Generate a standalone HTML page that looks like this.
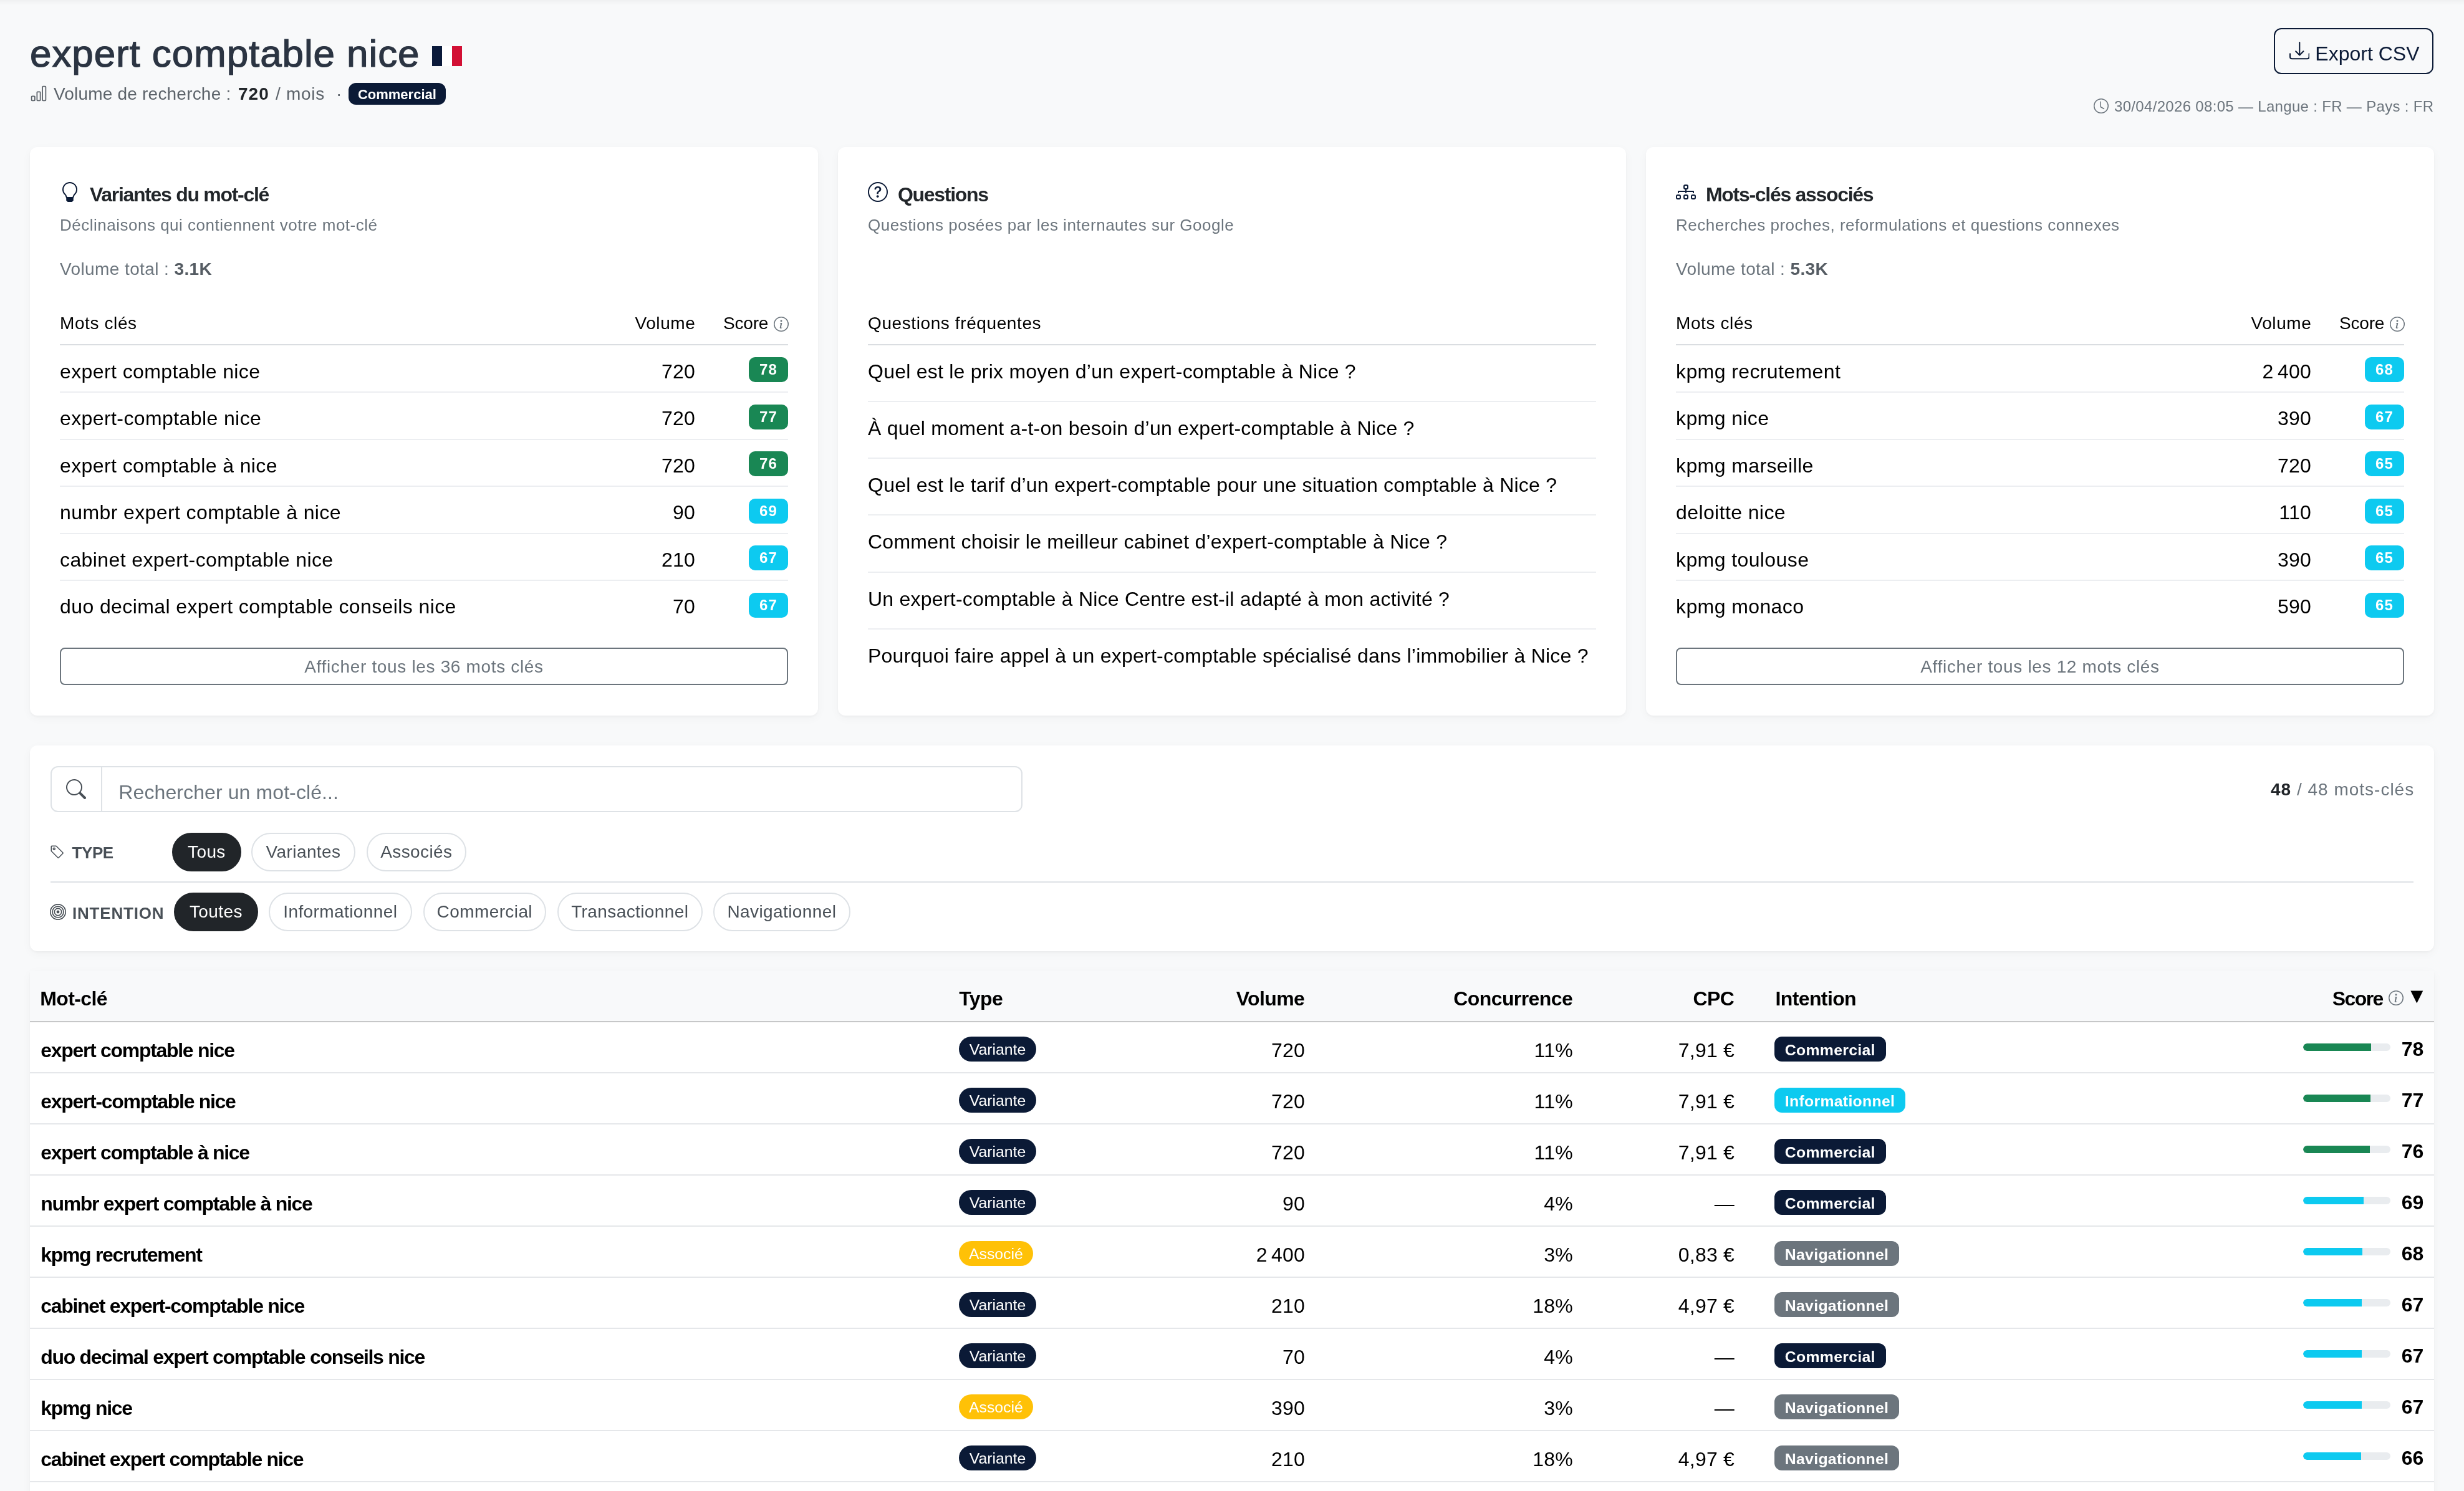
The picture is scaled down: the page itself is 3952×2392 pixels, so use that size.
<!DOCTYPE html>
<html lang="fr"><head><meta charset="utf-8"><title>expert comptable nice</title>
<style>
html,body{margin:0;padding:0;}
@media (min-width:2600px){html{zoom:2;}}
body{width:1976px;height:1196px;overflow:hidden;background:#f8f9fa;font-family:"Liberation Sans",Arial,sans-serif;position:relative;}
#root{position:absolute;left:0;top:0;width:1976px;height:1196px;overflow:hidden;will-change:transform;}
.a{position:absolute;display:block;}
.t{position:absolute;white-space:nowrap;}
.t b{font-weight:700;}
.ts{display:inline-block;width:3.2px;}
.bdg{position:absolute;height:20.1px;line-height:20.1px;padding:0 8.3px;border-radius:5px;color:#fff;font-weight:700;font-size:12px;letter-spacing:0.6px;}
.pill{position:absolute;border-radius:20px;box-sizing:border-box;}
.tp{position:absolute;height:20px;line-height:21px;border-radius:10px;color:#fff;font-size:12.4px;text-align:center;white-space:nowrap;}
.ib{position:absolute;height:20px;line-height:21.5px;padding:0 8.4px;border-radius:6px;color:#fff;font-size:12.4px;font-weight:700;white-space:nowrap;letter-spacing:0.15px;}
.sc{position:absolute;right:32.35px;height:40px;display:flex;align-items:center;justify-content:flex-end;}
.sc .bar{display:block;width:70px;height:6px;border-radius:3px;background:#e9ecef;overflow:hidden;margin-right:8.8px;}
.sc .bar span{display:block;height:100%;border-radius:3px 0 0 3px;}
.sc .num{font-weight:700;font-size:16px;color:#000;line-height:24px;position:relative;top:1.5px;}
</style></head>
<body>
<div id="root">
<div class="a" style="left:0.00px;top:0.00px;width:1976.00px;height:4.00px;background:linear-gradient(rgba(0,0,0,.035),rgba(0,0,0,0));"></div>
<span class="t " style="top:19.75px;font-size:31px;line-height:46px;color:#2b3442;letter-spacing:0.45px;left:24.00px;-webkit-text-stroke:0.6px #2b3442;">expert comptable nice</span>
<div class="a" style="left:346.50px;top:37.00px;width:8.00px;height:16.00px;background:#0b1a3a;"></div>
<div class="a" style="left:354.50px;top:37.00px;width:7.90px;height:16.00px;background:#fff;"></div>
<div class="a" style="left:362.40px;top:37.00px;width:8.10px;height:16.00px;background:#d21034;"></div>
<svg class="a" style="left:24.10px;top:68.10px" width="14" height="14" viewBox="0 0 16 16" fill="#5c636a"><path d="M4 11H2v3h2zm5-4H7v7h2zm5-5v12h-2V2zm-2-1a1 1 0 0 0-1 1v12a1 1 0 0 0 1 1h2a1 1 0 0 0 1-1V2a1 1 0 0 0-1-1zM6 7a1 1 0 0 1 1-1h2a1 1 0 0 1 1 1v7a1 1 0 0 1-1 1H7a1 1 0 0 1-1-1zm-5 4a1 1 0 0 1 1-1h2a1 1 0 0 1 1 1v3a1 1 0 0 1-1 1H2a1 1 0 0 1-1-1z"/></svg>
<span class="t " style="top:65.00px;font-size:14px;line-height:21px;color:#5c636a;letter-spacing:0.1px;left:43.00px;">Volume de recherche :</span>
<span class="t " style="top:65.00px;font-size:14px;line-height:21px;color:#212529;font-weight:700;letter-spacing:0.5px;left:191.00px;">720</span>
<span class="t " style="top:65.00px;font-size:14px;line-height:21px;color:#5c636a;letter-spacing:0.35px;left:221.00px;">/ mois</span>
<span class="t " style="top:65.00px;font-size:14px;line-height:21px;color:#5c636a;left:269.50px;">·</span>
<div class="a" style="left:279.50px;top:66.65px;width:77.90px;height:17.20px;background:#0b1a36;border-radius:6px;"></div>
<span class="t " style="top:68.05px;font-size:11px;line-height:16px;color:#fff;font-weight:700;left:318.45px;transform:translateX(-50%);">Commercial</span>
<div class="a" style="left:1823.30px;top:22.25px;width:128.35px;height:37.25px;border:1px solid #0b1a36;border-radius:6px;box-sizing:border-box;"></div>
<svg class="a" style="left:1835.90px;top:32.60px" width="16.3" height="16.3" viewBox="0 0 16 16" fill="#0b1a36"><path d="M.5 9.9a.5.5 0 0 1 .5.5v2.5a1 1 0 0 0 1 1h12a1 1 0 0 0 1-1v-2.5a.5.5 0 0 1 1 0v2.5a2 2 0 0 1-2 2H2a2 2 0 0 1-2-2v-2.5a.5.5 0 0 1 .5-.5"/><path d="M7.646 11.854a.5.5 0 0 0 .708 0l3-3a.5.5 0 0 0-.708-.708L8.5 10.293V1.5a.5.5 0 0 0-1 0v8.793L5.354 8.146a.5.5 0 1 0-.708.708z"/></svg>
<span class="t " style="top:31.00px;font-size:16px;line-height:24px;color:#0b1a36;left:1856.65px;">Export CSV</span>
<svg class="a" style="left:1679.00px;top:79.00px" width="12" height="12" viewBox="0 0 16 16" fill="#6c757d"><path d="M8 3.5a.5.5 0 0 0-1 0V9a.5.5 0 0 0 .252.434l3.5 2a.5.5 0 0 0 .496-.868L8 8.71z"/><path d="M8 16A8 8 0 1 0 8 0a8 8 0 0 0 0 16m7-8A7 7 0 1 1 1 8a7 7 0 0 1 14 0"/></svg>
<span class="t " style="top:76.70px;font-size:12px;line-height:18px;color:#6c757d;letter-spacing:0.16px;left:1695.50px;">30/04/2026 08:05 — Langue : FR — Pays : FR</span>
<div class="a" style="left:24.00px;top:118.00px;width:632.00px;height:456.00px;background:#fff;border-radius:6px;box-shadow:0 1px 2px rgba(0,0,0,.04),0 2px 8px rgba(0,0,0,.035);"></div>
<div class="a" style="left:672.00px;top:118.00px;width:632.00px;height:456.00px;background:#fff;border-radius:6px;box-shadow:0 1px 2px rgba(0,0,0,.04),0 2px 8px rgba(0,0,0,.035);"></div>
<div class="a" style="left:1320.00px;top:118.00px;width:632.00px;height:456.00px;background:#fff;border-radius:6px;box-shadow:0 1px 2px rgba(0,0,0,.04),0 2px 8px rgba(0,0,0,.035);"></div>
<svg class="a" style="left:48.00px;top:146.00px" width="16" height="16" viewBox="0 0 16 16" fill="#0b1a36"><path d="M2 6a6 6 0 1 1 10.174 4.31c-.203.196-.359.4-.453.619l-.762 1.769A.5.5 0 0 1 10.5 13a.5.5 0 0 1 0 1 .5.5 0 0 1 0 1l-.224.447a1 1 0 0 1-.894.553H6.618a1 1 0 0 1-.894-.553L5.5 15a.5.5 0 0 1 0-1 .5.5 0 0 1 0-1 .5.5 0 0 1-.46-.302l-.761-1.77a2 2 0 0 0-.453-.618A5.98 5.98 0 0 1 2 6m6-5a5 5 0 0 0-3.479 8.592c.263.254.514.564.676.941L5.83 12h4.342l.632-1.467c.162-.377.413-.687.676-.941A5 5 0 0 0 8 1"/><path d="M5.3 12.2h5.4l-.5 2.6H5.8z"/></svg>
<span class="t " style="top:144.00px;font-size:16px;line-height:24px;color:#212529;font-weight:700;letter-spacing:-0.65px;left:72.00px;">Variantes du mot-clé</span>
<span class="t " style="top:170.40px;font-size:13px;line-height:20px;color:#6c757d;letter-spacing:0.25px;left:48.00px;">Déclinaisons qui contiennent votre mot-clé</span>
<span class="t " style="top:205.60px;font-size:14px;line-height:21px;color:#6c757d;letter-spacing:0.2px;left:48.00px;">Volume total : <b style="color:#555c63">3.1K</b></span>
<span class="t " style="top:249.00px;font-size:14px;line-height:21px;color:#000;letter-spacing:0.3px;left:48.00px;">Mots clés</span>
<span class="t " style="top:249.00px;font-size:14px;line-height:21px;color:#000;letter-spacing:0.3px;right:1418.60px;margin-right:-0.3px;">Volume</span>
<span class="t " style="top:249.00px;font-size:14px;line-height:21px;color:#000;letter-spacing:-0.1px;left:580.00px;">Score</span>
<svg class="a" style="left:620.30px;top:254.00px" width="12" height="12" viewBox="0 0 16 16" fill="#6c757d"><path d="M8 15A7 7 0 1 1 8 1a7 7 0 0 1 0 14m0 1A8 8 0 1 0 8 0a8 8 0 0 0 0 16"/><path d="m8.93 6.588-2.29.287-.082.38.45.083c.294.07.352.176.288.469l-.738 3.468c-.194.897.105 1.319.808 1.319.545 0 1.178-.252 1.465-.598l.088-.416c-.2.176-.492.246-.686.246-.275 0-.375-.193-.304-.533zM9 4.5a1 1 0 1 1-2 0 1 1 0 0 1 2 0"/></svg>
<div class="a" style="left:48.00px;top:276.00px;width:584.00px;height:1.00px;background:#dadde1;"></div>
<span class="t " style="top:285.85px;font-size:16px;line-height:24px;color:#000;letter-spacing:0.2px;left:48.00px;">expert comptable nice</span>
<span class="t " style="top:285.85px;font-size:16px;line-height:24px;color:#000;letter-spacing:0.12px;right:1418.60px;margin-right:-0.12px;">720</span>
<span class="bdg" style="right:1344.15px;top:286.60px;background:#198754;">78</span>
<div class="a" style="left:48.00px;top:314.00px;width:584.00px;height:1.00px;background:#eceef1;"></div>
<span class="t " style="top:323.60px;font-size:16px;line-height:24px;color:#000;letter-spacing:0.2px;left:48.00px;">expert-comptable nice</span>
<span class="t " style="top:323.60px;font-size:16px;line-height:24px;color:#000;letter-spacing:0.12px;right:1418.60px;margin-right:-0.12px;">720</span>
<span class="bdg" style="right:1344.15px;top:324.35px;background:#198754;">77</span>
<div class="a" style="left:48.00px;top:351.75px;width:584.00px;height:1.00px;background:#eceef1;"></div>
<span class="t " style="top:361.35px;font-size:16px;line-height:24px;color:#000;letter-spacing:0.2px;left:48.00px;">expert comptable à nice</span>
<span class="t " style="top:361.35px;font-size:16px;line-height:24px;color:#000;letter-spacing:0.12px;right:1418.60px;margin-right:-0.12px;">720</span>
<span class="bdg" style="right:1344.15px;top:362.10px;background:#198754;">76</span>
<div class="a" style="left:48.00px;top:389.50px;width:584.00px;height:1.00px;background:#eceef1;"></div>
<span class="t " style="top:399.10px;font-size:16px;line-height:24px;color:#000;letter-spacing:0.2px;left:48.00px;">numbr expert comptable à nice</span>
<span class="t " style="top:399.10px;font-size:16px;line-height:24px;color:#000;letter-spacing:0.12px;right:1418.60px;margin-right:-0.12px;">90</span>
<span class="bdg" style="right:1344.15px;top:399.85px;background:#0dcaf0;">69</span>
<div class="a" style="left:48.00px;top:427.25px;width:584.00px;height:1.00px;background:#eceef1;"></div>
<span class="t " style="top:436.85px;font-size:16px;line-height:24px;color:#000;letter-spacing:0.2px;left:48.00px;">cabinet expert-comptable nice</span>
<span class="t " style="top:436.85px;font-size:16px;line-height:24px;color:#000;letter-spacing:0.12px;right:1418.60px;margin-right:-0.12px;">210</span>
<span class="bdg" style="right:1344.15px;top:437.60px;background:#0dcaf0;">67</span>
<div class="a" style="left:48.00px;top:465.00px;width:584.00px;height:1.00px;background:#eceef1;"></div>
<span class="t " style="top:474.60px;font-size:16px;line-height:24px;color:#000;letter-spacing:0.2px;left:48.00px;">duo decimal expert comptable conseils nice</span>
<span class="t " style="top:474.60px;font-size:16px;line-height:24px;color:#000;letter-spacing:0.12px;right:1418.60px;margin-right:-0.12px;">70</span>
<span class="bdg" style="right:1344.15px;top:475.35px;background:#0dcaf0;">67</span>
<div class="a" style="left:48.00px;top:519.35px;width:584.00px;height:30.25px;border:1px solid #6c757d;border-radius:4px;box-sizing:border-box;"></div>
<span class="t " style="top:524.60px;font-size:14px;line-height:21px;color:#6c757d;letter-spacing:0.33px;left:340.00px;transform:translateX(-50%);">Afficher tous les 36 mots clés</span>
<svg class="a" style="left:696.00px;top:146.00px" width="16" height="16" viewBox="0 0 16 16" fill="#0b1a36"><path d="M8 15A7 7 0 1 1 8 1a7 7 0 0 1 0 14m0 1A8 8 0 1 0 8 0a8 8 0 0 0 0 16"/><path d="M5.255 5.786a.237.237 0 0 0 .241.247h.825c.138 0 .248-.113.266-.25.09-.656.54-1.134 1.342-1.134.686 0 1.314.343 1.314 1.168 0 .635-.374.927-.965 1.371-.673.489-1.206 1.06-1.168 1.987l.003.217a.25.25 0 0 0 .25.246h.811a.25.25 0 0 0 .25-.25v-.105c0-.718.273-.927 1.01-1.486.609-.463 1.244-.977 1.244-2.056 0-1.511-1.276-2.241-2.673-2.241-1.267 0-2.655.59-2.75 2.286m1.557 5.763c0 .533.425.927 1.01.927.609 0 1.028-.394 1.028-.927 0-.552-.42-.94-1.029-.94-.584 0-1.009.388-1.009.94"/></svg>
<span class="t " style="top:144.00px;font-size:16px;line-height:24px;color:#212529;font-weight:700;letter-spacing:-0.65px;left:720.00px;">Questions</span>
<span class="t " style="top:170.40px;font-size:13px;line-height:20px;color:#6c757d;letter-spacing:0.25px;left:696.00px;">Questions posées par les internautes sur Google</span>
<span class="t " style="top:249.00px;font-size:14px;line-height:21px;color:#000;letter-spacing:0.3px;left:696.00px;">Questions fréquentes</span>
<div class="a" style="left:696.00px;top:276.00px;width:584.00px;height:1.00px;background:#dadde1;"></div>
<span class="t " style="top:285.85px;font-size:16px;line-height:24px;color:#000;letter-spacing:0.12px;left:696.00px;">Quel est le prix moyen d’un expert-comptable à Nice ?</span>
<div class="a" style="left:696.00px;top:321.50px;width:584.00px;height:1.00px;background:#eceef1;"></div>
<span class="t " style="top:331.45px;font-size:16px;line-height:24px;color:#000;letter-spacing:0.12px;left:696.00px;">À quel moment a-t-on besoin d’un expert-comptable à Nice ?</span>
<div class="a" style="left:696.00px;top:367.10px;width:584.00px;height:1.00px;background:#eceef1;"></div>
<span class="t " style="top:377.05px;font-size:16px;line-height:24px;color:#000;letter-spacing:0.12px;left:696.00px;">Quel est le tarif d’un expert-comptable pour une situation comptable à Nice ?</span>
<div class="a" style="left:696.00px;top:412.70px;width:584.00px;height:1.00px;background:#eceef1;"></div>
<span class="t " style="top:422.65px;font-size:16px;line-height:24px;color:#000;letter-spacing:0.12px;left:696.00px;">Comment choisir le meilleur cabinet d’expert-comptable à Nice ?</span>
<div class="a" style="left:696.00px;top:458.30px;width:584.00px;height:1.00px;background:#eceef1;"></div>
<span class="t " style="top:468.25px;font-size:16px;line-height:24px;color:#000;letter-spacing:0.12px;left:696.00px;">Un expert-comptable à Nice Centre est-il adapté à mon activité ?</span>
<div class="a" style="left:696.00px;top:503.90px;width:584.00px;height:1.00px;background:#eceef1;"></div>
<span class="t " style="top:513.85px;font-size:16px;line-height:24px;color:#000;letter-spacing:0.12px;left:696.00px;">Pourquoi faire appel à un expert-comptable spécialisé dans l’immobilier à Nice ?</span>
<svg class="a" style="left:1344.00px;top:146.00px" width="16" height="16" viewBox="0 0 16 16" fill="#0b1a36"><path fill-rule="evenodd" d="M6 3.5A1.5 1.5 0 0 1 7.5 2h1A1.5 1.5 0 0 1 10 3.5v1A1.5 1.5 0 0 1 8.5 6v1H14a.5.5 0 0 1 .5.5v1a.5.5 0 0 1-1 0V8h-5v.5a.5.5 0 0 1-1 0V8h-5v.5a.5.5 0 0 1-1 0v-1A.5.5 0 0 1 2 7h5.5V6A1.5 1.5 0 0 1 6 4.5zM8.5 5a.5.5 0 0 0 .5-.5v-1a.5.5 0 0 0-.5-.5h-1a.5.5 0 0 0-.5.5v1a.5.5 0 0 0 .5.5zM0 11.5A1.5 1.5 0 0 1 1.5 10h1A1.5 1.5 0 0 1 4 11.5v1A1.5 1.5 0 0 1 2.5 14h-1A1.5 1.5 0 0 1 0 12.5zm1.5-.5a.5.5 0 0 0-.5.5v1a.5.5 0 0 0 .5.5h1a.5.5 0 0 0 .5-.5v-1a.5.5 0 0 0-.5-.5zm4.5.5A1.5 1.5 0 0 1 7.5 10h1a1.5 1.5 0 0 1 1.5 1.5v1A1.5 1.5 0 0 1 8.5 14h-1A1.5 1.5 0 0 1 6 12.5zm1.5-.5a.5.5 0 0 0-.5.5v1a.5.5 0 0 0 .5.5h1a.5.5 0 0 0 .5-.5v-1a.5.5 0 0 0-.5-.5zm4.5.5a1.5 1.5 0 0 1 1.5-1.5h1a1.5 1.5 0 0 1 1.5 1.5v1a1.5 1.5 0 0 1-1.5 1.5h-1a1.5 1.5 0 0 1-1.5-1.5zm1.5-.5a.5.5 0 0 0-.5.5v1a.5.5 0 0 0 .5.5h1a.5.5 0 0 0 .5-.5v-1a.5.5 0 0 0-.5-.5z"/></svg>
<span class="t " style="top:144.00px;font-size:16px;line-height:24px;color:#212529;font-weight:700;letter-spacing:-0.65px;left:1368.00px;">Mots-clés associés</span>
<span class="t " style="top:170.40px;font-size:13px;line-height:20px;color:#6c757d;letter-spacing:0.25px;left:1344.00px;">Recherches proches, reformulations et questions connexes</span>
<span class="t " style="top:205.60px;font-size:14px;line-height:21px;color:#6c757d;letter-spacing:0.2px;left:1344.00px;">Volume total : <b style="color:#555c63">5.3K</b></span>
<span class="t " style="top:249.00px;font-size:14px;line-height:21px;color:#000;letter-spacing:0.3px;left:1344.00px;">Mots clés</span>
<span class="t " style="top:249.00px;font-size:14px;line-height:21px;color:#000;letter-spacing:0.3px;right:122.60px;margin-right:-0.3px;">Volume</span>
<span class="t " style="top:249.00px;font-size:14px;line-height:21px;color:#000;letter-spacing:-0.1px;left:1876.00px;">Score</span>
<svg class="a" style="left:1916.30px;top:254.00px" width="12" height="12" viewBox="0 0 16 16" fill="#6c757d"><path d="M8 15A7 7 0 1 1 8 1a7 7 0 0 1 0 14m0 1A8 8 0 1 0 8 0a8 8 0 0 0 0 16"/><path d="m8.93 6.588-2.29.287-.082.38.45.083c.294.07.352.176.288.469l-.738 3.468c-.194.897.105 1.319.808 1.319.545 0 1.178-.252 1.465-.598l.088-.416c-.2.176-.492.246-.686.246-.275 0-.375-.193-.304-.533zM9 4.5a1 1 0 1 1-2 0 1 1 0 0 1 2 0"/></svg>
<div class="a" style="left:1344.00px;top:276.00px;width:584.00px;height:1.00px;background:#dadde1;"></div>
<span class="t " style="top:285.85px;font-size:16px;line-height:24px;color:#000;letter-spacing:0.2px;left:1344.00px;">kpmg recrutement</span>
<span class="t " style="top:285.85px;font-size:16px;line-height:24px;color:#000;letter-spacing:0.12px;right:122.60px;margin-right:-0.12px;">2<span class="ts"></span>400</span>
<span class="bdg" style="right:48.15px;top:286.60px;background:#0dcaf0;">68</span>
<div class="a" style="left:1344.00px;top:314.00px;width:584.00px;height:1.00px;background:#eceef1;"></div>
<span class="t " style="top:323.60px;font-size:16px;line-height:24px;color:#000;letter-spacing:0.2px;left:1344.00px;">kpmg nice</span>
<span class="t " style="top:323.60px;font-size:16px;line-height:24px;color:#000;letter-spacing:0.12px;right:122.60px;margin-right:-0.12px;">390</span>
<span class="bdg" style="right:48.15px;top:324.35px;background:#0dcaf0;">67</span>
<div class="a" style="left:1344.00px;top:351.75px;width:584.00px;height:1.00px;background:#eceef1;"></div>
<span class="t " style="top:361.35px;font-size:16px;line-height:24px;color:#000;letter-spacing:0.2px;left:1344.00px;">kpmg marseille</span>
<span class="t " style="top:361.35px;font-size:16px;line-height:24px;color:#000;letter-spacing:0.12px;right:122.60px;margin-right:-0.12px;">720</span>
<span class="bdg" style="right:48.15px;top:362.10px;background:#0dcaf0;">65</span>
<div class="a" style="left:1344.00px;top:389.50px;width:584.00px;height:1.00px;background:#eceef1;"></div>
<span class="t " style="top:399.10px;font-size:16px;line-height:24px;color:#000;letter-spacing:0.2px;left:1344.00px;">deloitte nice</span>
<span class="t " style="top:399.10px;font-size:16px;line-height:24px;color:#000;letter-spacing:0.12px;right:122.60px;margin-right:-0.12px;">110</span>
<span class="bdg" style="right:48.15px;top:399.85px;background:#0dcaf0;">65</span>
<div class="a" style="left:1344.00px;top:427.25px;width:584.00px;height:1.00px;background:#eceef1;"></div>
<span class="t " style="top:436.85px;font-size:16px;line-height:24px;color:#000;letter-spacing:0.2px;left:1344.00px;">kpmg toulouse</span>
<span class="t " style="top:436.85px;font-size:16px;line-height:24px;color:#000;letter-spacing:0.12px;right:122.60px;margin-right:-0.12px;">390</span>
<span class="bdg" style="right:48.15px;top:437.60px;background:#0dcaf0;">65</span>
<div class="a" style="left:1344.00px;top:465.00px;width:584.00px;height:1.00px;background:#eceef1;"></div>
<span class="t " style="top:474.60px;font-size:16px;line-height:24px;color:#000;letter-spacing:0.2px;left:1344.00px;">kpmg monaco</span>
<span class="t " style="top:474.60px;font-size:16px;line-height:24px;color:#000;letter-spacing:0.12px;right:122.60px;margin-right:-0.12px;">590</span>
<span class="bdg" style="right:48.15px;top:475.35px;background:#0dcaf0;">65</span>
<div class="a" style="left:1344.00px;top:519.35px;width:584.00px;height:30.25px;border:1px solid #6c757d;border-radius:4px;box-sizing:border-box;"></div>
<span class="t " style="top:524.60px;font-size:14px;line-height:21px;color:#6c757d;letter-spacing:0.33px;left:1636.00px;transform:translateX(-50%);">Afficher tous les 12 mots clés</span>
<div class="a" style="left:24.00px;top:598.00px;width:1928.00px;height:164.75px;background:#fff;border-radius:6px;box-shadow:0 1px 2px rgba(0,0,0,.04),0 2px 8px rgba(0,0,0,.035);"></div>
<div class="a" style="left:40.35px;top:614.40px;width:779.65px;height:37.10px;border:1px solid #dee2e6;border-radius:6px;box-sizing:border-box;"></div>
<div class="a" style="left:81.00px;top:614.40px;width:1.00px;height:37.10px;background:#dee2e6;"></div>
<svg class="a" style="left:52.95px;top:625.00px" width="16" height="16" viewBox="0 0 16 16" fill="#495057"><path d="M11.742 10.344a6.5 6.5 0 1 0-1.397 1.398h-.001q.044.06.098.115l3.85 3.85a1 1 0 0 0 1.415-1.414l-3.85-3.85a1 1 0 0 0-.115-.1zM12 6.5a5.5 5.5 0 1 1-11 0 5.5 5.5 0 0 1 11 0"/></svg>
<span class="t " style="top:623.45px;font-size:16px;line-height:24px;color:#6c757d;letter-spacing:0.05px;left:95.15px;">Rechercher un mot-clé...</span>
<span class="t " style="top:623.00px;font-size:14px;line-height:21px;color:#6c757d;letter-spacing:0.5px;right:40.40px;margin-right:-0.5px;"><b style="color:#212529">48</b> / 48 mots-clés</span>
<svg class="a" style="left:40.20px;top:677.30px" width="12" height="12" viewBox="0 0 16 16" fill="#495057"><path d="M6 4.5a1.5 1.5 0 1 1-3 0 1.5 1.5 0 0 1 3 0m-1 0a.5.5 0 1 0-1 0 .5.5 0 0 0 1 0"/><path d="M2 1h4.586a1 1 0 0 1 .707.293l7 7a1 1 0 0 1 0 1.414l-4.586 4.586a1 1 0 0 1-1.414 0l-7-7A1 1 0 0 1 1 6.586V2a1 1 0 0 1 1-1m0 5.586 7 7L13.586 9l-7-7H2z"/></svg>
<span class="t " style="top:674.15px;font-size:13px;line-height:20px;color:#495057;font-weight:700;letter-spacing:-0.2px;left:57.75px;">TYPE</span>
<div class="pill" style="left:138.00px;top:668.00px;width:55.40px;height:30.75px;background:#212529;color:#fff;border:1px solid #212529;"></div>
<span class="t " style="top:673.15px;font-size:14px;line-height:21px;color:#fff;letter-spacing:0.2px;left:165.70px;transform:translateX(-50%);">Tous</span>
<div class="pill" style="left:201.65px;top:668.00px;width:83.20px;height:30.75px;background:#fff;color:#495057;border:1px solid #dee2e6;"></div>
<span class="t " style="top:673.15px;font-size:14px;line-height:21px;color:#495057;letter-spacing:0.2px;left:243.25px;transform:translateX(-50%);">Variantes</span>
<div class="pill" style="left:294.00px;top:668.00px;width:79.85px;height:30.75px;background:#fff;color:#495057;border:1px solid #dee2e6;"></div>
<span class="t " style="top:673.15px;font-size:14px;line-height:21px;color:#495057;letter-spacing:0.2px;left:333.93px;transform:translateX(-50%);">Associés</span>
<div class="a" style="left:40.35px;top:707.00px;width:1895.25px;height:1.00px;background:#dee2e6;"></div>
<svg class="a" style="left:39.90px;top:725.00px" width="13" height="13" viewBox="0 0 16 16" fill="#495057"><path d="M8 15A7 7 0 1 1 8 1a7 7 0 0 1 0 14m0 1A8 8 0 1 0 8 0a8 8 0 0 0 0 16"/><path d="M8 13A5 5 0 1 1 8 3a5 5 0 0 1 0 10m0 1A6 6 0 1 0 8 2a6 6 0 0 0 0 12"/><path d="M8 11a3 3 0 1 1 0-6 3 3 0 0 1 0 6m0 1a4 4 0 1 0 0-8 4 4 0 0 0 0 8"/><path d="M9.5 8a1.5 1.5 0 1 1-3 0 1.5 1.5 0 0 1 3 0"/></svg>
<span class="t " style="top:722.50px;font-size:13px;line-height:20px;color:#495057;font-weight:700;letter-spacing:0.4px;left:58.00px;">INTENTION</span>
<div class="pill" style="left:139.60px;top:716.00px;width:67.20px;height:30.85px;background:#212529;color:#fff;border:1px solid #212529;"></div>
<span class="t " style="top:721.15px;font-size:14px;line-height:21px;color:#fff;letter-spacing:0.2px;left:173.20px;transform:translateX(-50%);">Toutes</span>
<div class="pill" style="left:215.35px;top:716.00px;width:115.05px;height:30.85px;background:#fff;color:#495057;border:1px solid #dee2e6;"></div>
<span class="t " style="top:721.15px;font-size:14px;line-height:21px;color:#495057;letter-spacing:0.2px;left:272.88px;transform:translateX(-50%);">Informationnel</span>
<div class="pill" style="left:339.50px;top:716.00px;width:98.30px;height:30.85px;background:#fff;color:#495057;border:1px solid #dee2e6;"></div>
<span class="t " style="top:721.15px;font-size:14px;line-height:21px;color:#495057;letter-spacing:0.2px;left:388.65px;transform:translateX(-50%);">Commercial</span>
<div class="pill" style="left:446.90px;top:716.00px;width:116.45px;height:30.85px;background:#fff;color:#495057;border:1px solid #dee2e6;"></div>
<span class="t " style="top:721.15px;font-size:14px;line-height:21px;color:#495057;letter-spacing:0.2px;left:505.12px;transform:translateX(-50%);">Transactionnel</span>
<div class="pill" style="left:572.15px;top:716.00px;width:109.65px;height:30.85px;background:#fff;color:#495057;border:1px solid #dee2e6;"></div>
<span class="t " style="top:721.15px;font-size:14px;line-height:21px;color:#495057;letter-spacing:0.2px;left:626.97px;transform:translateX(-50%);">Navigationnel</span>
<div class="a" style="left:24.00px;top:779.00px;width:1928.00px;height:471.00px;background:#fff;box-shadow:0 1px 2px rgba(0,0,0,.04),0 2px 8px rgba(0,0,0,.035);"></div>
<div class="a" style="left:24.00px;top:779.00px;width:1928.00px;height:40.00px;background:#f8f9fa;"></div>
<div class="a" style="left:24.00px;top:819.00px;width:1928.00px;height:1.00px;background:#c6c7c8;"></div>
<span class="t " style="top:789.00px;font-size:16px;line-height:24px;color:#000;font-weight:700;letter-spacing:-0.3px;left:32.10px;">Mot-clé</span>
<span class="t " style="top:789.00px;font-size:16px;line-height:24px;color:#000;font-weight:700;letter-spacing:-0.3px;left:769.15px;">Type</span>
<span class="t " style="top:789.00px;font-size:16px;line-height:24px;color:#000;font-weight:700;letter-spacing:-0.3px;right:929.55px;margin-right:0.3px;">Volume</span>
<span class="t " style="top:789.00px;font-size:16px;line-height:24px;color:#000;font-weight:700;letter-spacing:-0.3px;right:714.65px;margin-right:0.3px;">Concurrence</span>
<span class="t " style="top:789.00px;font-size:16px;line-height:24px;color:#000;font-weight:700;letter-spacing:-0.3px;right:585.10px;margin-right:0.3px;">CPC</span>
<span class="t " style="top:789.00px;font-size:16px;line-height:24px;color:#000;font-weight:700;letter-spacing:-0.3px;left:1423.70px;">Intention</span>
<span class="t " style="top:789.00px;font-size:16px;line-height:24px;color:#000;font-weight:700;letter-spacing:-0.8px;right:64.35px;margin-right:0.8px;">Score</span>
<svg class="a" style="left:1915.70px;top:794.60px" width="12" height="12" viewBox="0 0 16 16" fill="#6c757d"><path d="M8 15A7 7 0 1 1 8 1a7 7 0 0 1 0 14m0 1A8 8 0 1 0 8 0a8 8 0 0 0 0 16"/><path d="m8.93 6.588-2.29.287-.082.38.45.083c.294.07.352.176.288.469l-.738 3.468c-.194.897.105 1.319.808 1.319.545 0 1.178-.252 1.465-.598l.088-.416c-.2.176-.492.246-.686.246-.275 0-.375-.193-.304-.533zM9 4.5a1 1 0 1 1-2 0 1 1 0 0 1 2 0"/></svg>
<span class="t" style="left:1929.7px;top:786.5px;font-size:17px;line-height:24px;color:#000;">▼</span>
<span class="t " style="top:830.30px;font-size:16px;line-height:24px;color:#000;font-weight:700;letter-spacing:-0.65px;left:32.60px;">expert comptable nice</span>
<span class="tp" style="left:769px;top:831.50px;width:62px;background:#0b1a36;">Variante</span>
<span class="t " style="top:830.30px;font-size:16px;line-height:24px;color:#000;letter-spacing:0.1px;right:929.55px;margin-right:-0.1px;">720</span>
<span class="t " style="top:830.30px;font-size:16px;line-height:24px;color:#000;letter-spacing:0.1px;right:714.65px;margin-right:-0.1px;">11%</span>
<span class="t " style="top:830.30px;font-size:16px;line-height:24px;color:#000;letter-spacing:0.1px;right:585.10px;margin-right:-0.1px;">7,91 €</span>
<span class="ib" style="left:1423px;top:831.50px;background:#0b1a36;">Commercial</span>
<div class="sc" style="top:820.00px;"><span class="bar"><span style="width:78%;background:#198754;"></span></span><span class="num">78</span></div>
<div class="a" style="left:24.00px;top:860.00px;width:1928.00px;height:1.00px;background:#e5e7ea;"></div>
<span class="t " style="top:871.30px;font-size:16px;line-height:24px;color:#000;font-weight:700;letter-spacing:-0.65px;left:32.60px;">expert-comptable nice</span>
<span class="tp" style="left:769px;top:872.50px;width:62px;background:#0b1a36;">Variante</span>
<span class="t " style="top:871.30px;font-size:16px;line-height:24px;color:#000;letter-spacing:0.1px;right:929.55px;margin-right:-0.1px;">720</span>
<span class="t " style="top:871.30px;font-size:16px;line-height:24px;color:#000;letter-spacing:0.1px;right:714.65px;margin-right:-0.1px;">11%</span>
<span class="t " style="top:871.30px;font-size:16px;line-height:24px;color:#000;letter-spacing:0.1px;right:585.10px;margin-right:-0.1px;">7,91 €</span>
<span class="ib" style="left:1423px;top:872.50px;background:#0dcaf0;">Informationnel</span>
<div class="sc" style="top:861.00px;"><span class="bar"><span style="width:77%;background:#198754;"></span></span><span class="num">77</span></div>
<div class="a" style="left:24.00px;top:901.00px;width:1928.00px;height:1.00px;background:#e5e7ea;"></div>
<span class="t " style="top:912.30px;font-size:16px;line-height:24px;color:#000;font-weight:700;letter-spacing:-0.65px;left:32.60px;">expert comptable à nice</span>
<span class="tp" style="left:769px;top:913.50px;width:62px;background:#0b1a36;">Variante</span>
<span class="t " style="top:912.30px;font-size:16px;line-height:24px;color:#000;letter-spacing:0.1px;right:929.55px;margin-right:-0.1px;">720</span>
<span class="t " style="top:912.30px;font-size:16px;line-height:24px;color:#000;letter-spacing:0.1px;right:714.65px;margin-right:-0.1px;">11%</span>
<span class="t " style="top:912.30px;font-size:16px;line-height:24px;color:#000;letter-spacing:0.1px;right:585.10px;margin-right:-0.1px;">7,91 €</span>
<span class="ib" style="left:1423px;top:913.50px;background:#0b1a36;">Commercial</span>
<div class="sc" style="top:902.00px;"><span class="bar"><span style="width:76%;background:#198754;"></span></span><span class="num">76</span></div>
<div class="a" style="left:24.00px;top:942.00px;width:1928.00px;height:1.00px;background:#e5e7ea;"></div>
<span class="t " style="top:953.30px;font-size:16px;line-height:24px;color:#000;font-weight:700;letter-spacing:-0.65px;left:32.60px;">numbr expert comptable à nice</span>
<span class="tp" style="left:769px;top:954.50px;width:62px;background:#0b1a36;">Variante</span>
<span class="t " style="top:953.30px;font-size:16px;line-height:24px;color:#000;letter-spacing:0.1px;right:929.55px;margin-right:-0.1px;">90</span>
<span class="t " style="top:953.30px;font-size:16px;line-height:24px;color:#000;letter-spacing:0.1px;right:714.65px;margin-right:-0.1px;">4%</span>
<span class="t " style="top:953.30px;font-size:16px;line-height:24px;color:#000;letter-spacing:0.1px;right:585.10px;margin-right:-0.1px;">—</span>
<span class="ib" style="left:1423px;top:954.50px;background:#0b1a36;">Commercial</span>
<div class="sc" style="top:943.00px;"><span class="bar"><span style="width:69%;background:#0dcaf0;"></span></span><span class="num">69</span></div>
<div class="a" style="left:24.00px;top:983.00px;width:1928.00px;height:1.00px;background:#e5e7ea;"></div>
<span class="t " style="top:994.30px;font-size:16px;line-height:24px;color:#000;font-weight:700;letter-spacing:-0.65px;left:32.60px;">kpmg recrutement</span>
<span class="tp" style="left:769px;top:995.50px;width:59.4px;background:#ffc107;">Associé</span>
<span class="t " style="top:994.30px;font-size:16px;line-height:24px;color:#000;letter-spacing:0.1px;right:929.55px;margin-right:-0.1px;">2<span class="ts"></span>400</span>
<span class="t " style="top:994.30px;font-size:16px;line-height:24px;color:#000;letter-spacing:0.1px;right:714.65px;margin-right:-0.1px;">3%</span>
<span class="t " style="top:994.30px;font-size:16px;line-height:24px;color:#000;letter-spacing:0.1px;right:585.10px;margin-right:-0.1px;">0,83 €</span>
<span class="ib" style="left:1423px;top:995.50px;background:#6c757d;">Navigationnel</span>
<div class="sc" style="top:984.00px;"><span class="bar"><span style="width:68%;background:#0dcaf0;"></span></span><span class="num">68</span></div>
<div class="a" style="left:24.00px;top:1024.00px;width:1928.00px;height:1.00px;background:#e5e7ea;"></div>
<span class="t " style="top:1035.30px;font-size:16px;line-height:24px;color:#000;font-weight:700;letter-spacing:-0.65px;left:32.60px;">cabinet expert-comptable nice</span>
<span class="tp" style="left:769px;top:1036.50px;width:62px;background:#0b1a36;">Variante</span>
<span class="t " style="top:1035.30px;font-size:16px;line-height:24px;color:#000;letter-spacing:0.1px;right:929.55px;margin-right:-0.1px;">210</span>
<span class="t " style="top:1035.30px;font-size:16px;line-height:24px;color:#000;letter-spacing:0.1px;right:714.65px;margin-right:-0.1px;">18%</span>
<span class="t " style="top:1035.30px;font-size:16px;line-height:24px;color:#000;letter-spacing:0.1px;right:585.10px;margin-right:-0.1px;">4,97 €</span>
<span class="ib" style="left:1423px;top:1036.50px;background:#6c757d;">Navigationnel</span>
<div class="sc" style="top:1025.00px;"><span class="bar"><span style="width:67%;background:#0dcaf0;"></span></span><span class="num">67</span></div>
<div class="a" style="left:24.00px;top:1065.00px;width:1928.00px;height:1.00px;background:#e5e7ea;"></div>
<span class="t " style="top:1076.30px;font-size:16px;line-height:24px;color:#000;font-weight:700;letter-spacing:-0.65px;left:32.60px;">duo decimal expert comptable conseils nice</span>
<span class="tp" style="left:769px;top:1077.50px;width:62px;background:#0b1a36;">Variante</span>
<span class="t " style="top:1076.30px;font-size:16px;line-height:24px;color:#000;letter-spacing:0.1px;right:929.55px;margin-right:-0.1px;">70</span>
<span class="t " style="top:1076.30px;font-size:16px;line-height:24px;color:#000;letter-spacing:0.1px;right:714.65px;margin-right:-0.1px;">4%</span>
<span class="t " style="top:1076.30px;font-size:16px;line-height:24px;color:#000;letter-spacing:0.1px;right:585.10px;margin-right:-0.1px;">—</span>
<span class="ib" style="left:1423px;top:1077.50px;background:#0b1a36;">Commercial</span>
<div class="sc" style="top:1066.00px;"><span class="bar"><span style="width:67%;background:#0dcaf0;"></span></span><span class="num">67</span></div>
<div class="a" style="left:24.00px;top:1106.00px;width:1928.00px;height:1.00px;background:#e5e7ea;"></div>
<span class="t " style="top:1117.30px;font-size:16px;line-height:24px;color:#000;font-weight:700;letter-spacing:-0.65px;left:32.60px;">kpmg nice</span>
<span class="tp" style="left:769px;top:1118.50px;width:59.4px;background:#ffc107;">Associé</span>
<span class="t " style="top:1117.30px;font-size:16px;line-height:24px;color:#000;letter-spacing:0.1px;right:929.55px;margin-right:-0.1px;">390</span>
<span class="t " style="top:1117.30px;font-size:16px;line-height:24px;color:#000;letter-spacing:0.1px;right:714.65px;margin-right:-0.1px;">3%</span>
<span class="t " style="top:1117.30px;font-size:16px;line-height:24px;color:#000;letter-spacing:0.1px;right:585.10px;margin-right:-0.1px;">—</span>
<span class="ib" style="left:1423px;top:1118.50px;background:#6c757d;">Navigationnel</span>
<div class="sc" style="top:1107.00px;"><span class="bar"><span style="width:67%;background:#0dcaf0;"></span></span><span class="num">67</span></div>
<div class="a" style="left:24.00px;top:1147.00px;width:1928.00px;height:1.00px;background:#e5e7ea;"></div>
<span class="t " style="top:1158.30px;font-size:16px;line-height:24px;color:#000;font-weight:700;letter-spacing:-0.65px;left:32.60px;">cabinet expert comptable nice</span>
<span class="tp" style="left:769px;top:1159.50px;width:62px;background:#0b1a36;">Variante</span>
<span class="t " style="top:1158.30px;font-size:16px;line-height:24px;color:#000;letter-spacing:0.1px;right:929.55px;margin-right:-0.1px;">210</span>
<span class="t " style="top:1158.30px;font-size:16px;line-height:24px;color:#000;letter-spacing:0.1px;right:714.65px;margin-right:-0.1px;">18%</span>
<span class="t " style="top:1158.30px;font-size:16px;line-height:24px;color:#000;letter-spacing:0.1px;right:585.10px;margin-right:-0.1px;">4,97 €</span>
<span class="ib" style="left:1423px;top:1159.50px;background:#6c757d;">Navigationnel</span>
<div class="sc" style="top:1148.00px;"><span class="bar"><span style="width:66%;background:#0dcaf0;"></span></span><span class="num">66</span></div>
<div class="a" style="left:24.00px;top:1188.00px;width:1928.00px;height:1.00px;background:#e5e7ea;"></div>
</div>
<script>(function(){var w=window.innerWidth;if(w&&Math.abs(w-1976)>2&&Math.abs(w-3952)>2){document.documentElement.style.zoom=(w/1976);}})();</script>
</body></html>
